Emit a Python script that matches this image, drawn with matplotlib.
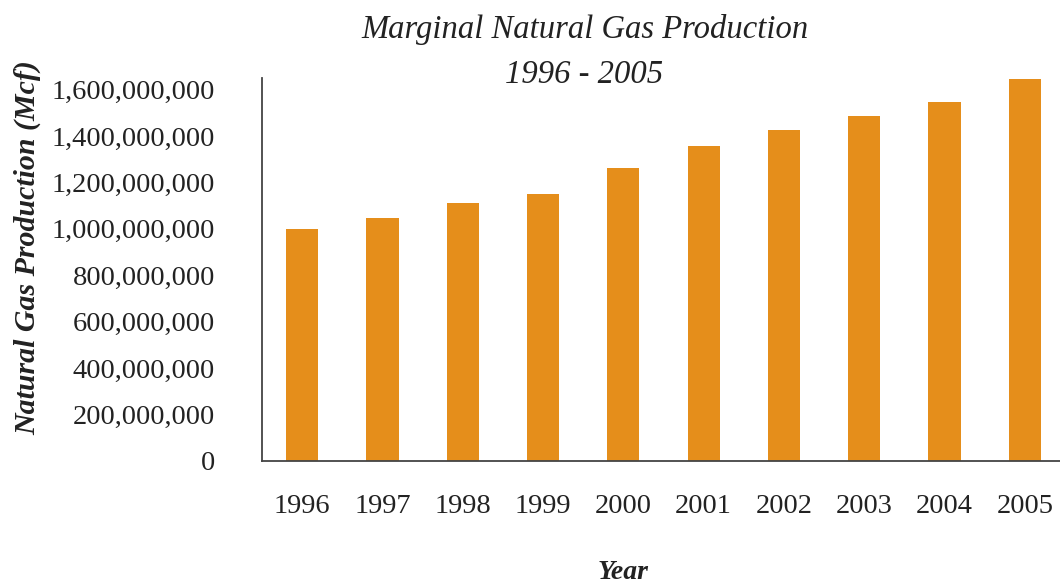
import matplotlib.pyplot as plt
from matplotlib.ticker import FuncFormatter

years = ["1996", "1997", "1998", "1999", "2000", "2001", "2002", "2003", "2004", "2005"]
production = [1.000e9, 1.045e9, 1.110e9, 1.148e9, 1.260e9,
              1.359e9, 1.424e9, 1.488e9, 1.548e9, 1.647e9]
y_ticks = [0, 200e6, 400e6, 600e6, 800e6, 1000e6, 1200e6, 1400e6, 1600e6]

plt.rcParams['font.family'] = ['Liberation Serif', 'DejaVu Serif']

fig = plt.figure(figsize=(10.6, 5.87), dpi=100)
ax = fig.add_axes([0.2472, 0.2147, 0.7575, 0.6525])

x = range(len(years))
ax.bar(x, production, width=0.4, color="#E58E1B")

ax.set_xlim(-0.5, 9.5)
ax.set_ylim(0, 1.65e9)
ax.set_yticks(y_ticks)
ax.yaxis.set_major_formatter(FuncFormatter(lambda v, p: "{:,.0f}".format(v)))
ax.set_xticks(list(x))
ax.set_xticklabels(years)

ax.tick_params(axis="y", length=0, pad=34, labelsize=20.5, colors="#222222")
ax.tick_params(axis="x", length=0, pad=24, labelsize=20.5, colors="#222222")

for s in ["top", "right"]:
    ax.spines[s].set_visible(False)
for s in ["left", "bottom"]:
    ax.spines[s].set_color("#444444")
    ax.spines[s].set_linewidth(1.3)

# y label placed in figure coords so it sits at the far left edge
fig.text(0.026, 0.579, "Natural Gas Production (Mcf)", ha="center", va="center",
         rotation=90, fontsize=21.5, fontstyle="italic", fontweight="bold", color="#222222")
fig.text(0.588, 0.025, "Year", ha="center", va="center", fontsize=20,
         fontstyle="italic", fontweight="bold", color="#222222")

fig.text(0.552, 0.95, "Marginal Natural Gas Production", ha="center", va="center",
         fontsize=23.5, fontstyle="italic", color="#222222")
fig.text(0.551, 0.873, "1996 - 2005", ha="center", va="center",
         fontsize=23.5, fontstyle="italic", color="#222222")

fig.savefig("out.png", dpi=100)
